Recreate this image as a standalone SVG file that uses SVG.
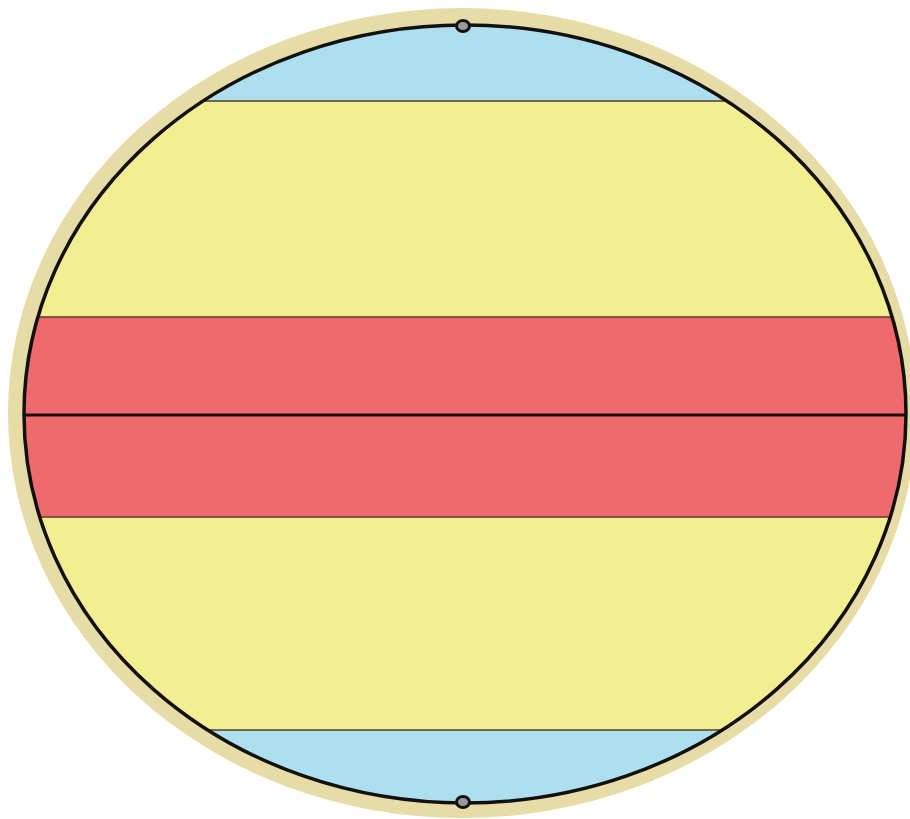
<svg xmlns="http://www.w3.org/2000/svg" width="910" height="819" viewBox="0 0 910 819">
<defs>
<clipPath id="globe"><ellipse cx="465" cy="414" rx="441" ry="389"/></clipPath>
<style>
.band{stroke:none}
.sep{stroke:#5a3a2a;stroke-width:1.5}
.pole{fill:#9a9a9a;stroke:#111111;stroke-width:3}
</style>
</defs>
<rect width="910" height="819" fill="#ffffff"/>
<ellipse id="rim" cx="462" cy="413" rx="454" ry="405" fill="#E7DBA6"/>
<g id="bands" clip-path="url(#globe)">
<rect class="band" x="0" y="0" width="910" height="101" fill="#AEDFEE"/>
<rect class="band" x="0" y="101" width="910" height="216" fill="#F2EE91"/>
<rect class="band" x="0" y="317" width="910" height="200" fill="#EF6A6C"/>
<rect class="band" x="0" y="517" width="910" height="213" fill="#F2EE91"/>
<rect class="band" x="0" y="730" width="910" height="89" fill="#AEDFEE"/>
<line class="sep" x1="0" y1="101" x2="910" y2="101"/>
<line class="sep" x1="0" y1="317" x2="910" y2="317"/>
<line class="sep" x1="0" y1="517" x2="910" y2="517"/>
<line class="sep" x1="0" y1="730" x2="910" y2="730"/>
<line x1="0" y1="415" x2="910" y2="415" stroke="#1a0a0a" stroke-width="3"/>
</g>
<ellipse id="outline" cx="465" cy="414" rx="441" ry="389" fill="none" stroke="#111111" stroke-width="3.5"/>
<ellipse id="north-pole" class="pole" cx="463" cy="26" rx="6.5" ry="5.5"/>
<ellipse id="south-pole" class="pole" cx="463" cy="802" rx="6.5" ry="5.5"/>
</svg>
